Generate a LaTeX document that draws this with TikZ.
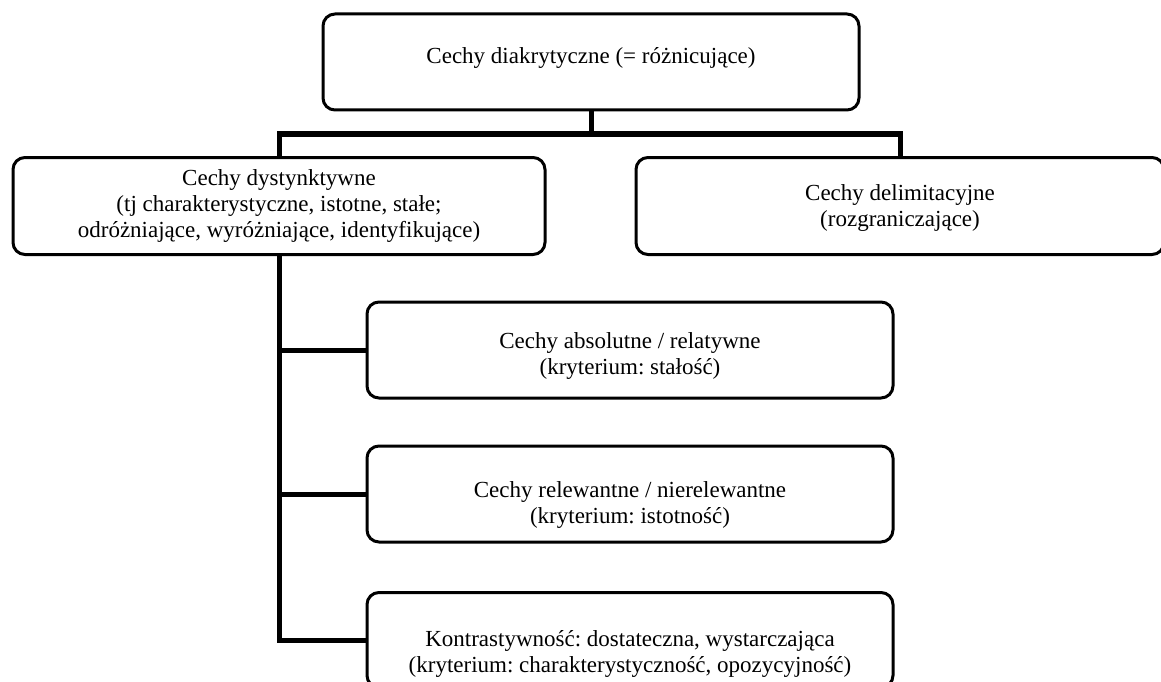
\documentclass[tikz,border=0pt]{standalone}
\usepackage{fontspec}
\setmainfont{Liberation Serif}
\usetikzlibrary{positioning, calc}
\frenchspacing
% extra room above the first line, so the text sits lower in its box
\newcommand{\padtop}[1]{\rule{0pt}{#1}}

\begin{document}
\begin{tikzpicture}[x=1pt, y=-1pt, line join=miter,
    box/.style = {draw, fill=white, rounded corners=12pt, line width=3pt, align=center,
                  font=\fontsize{23}{26}\selectfont},
    link/.style = {line width=5pt}]

    \useasboundingbox (0,0) rectangle (1161,682);

    % main boxes
    \node[box, minimum width=536pt, minimum height=96pt] (diak) at (591,62) {Cechy diakrytyczne (= różnicujące)\rule[-13pt]{0pt}{0pt}};
    \node[box, minimum width=532pt, minimum height=97pt] (dyst) at (279,206) {Cechy dystynktywne\\(tj charakterystyczne, istotne, stałe;\\odróżniające, wyróżniające, identyfikujące)};
    \node[box, minimum width=528pt, minimum height=97pt] (delim) at (900,206) {\padtop{20pt}Cechy delimitacyjne\\(rozgraniczające)};

    % sub boxes
    \node[box, minimum width=526pt, minimum height=96pt] (abs) at (630,350) {\padtop{28pt}Cechy absolutne / relatywne\\(kryterium: stałość)};
    \node[box, minimum width=526pt, minimum height=96pt] (rel) at (630,494) {\padtop{38pt}Cechy relewantne / nierelewantne\\(kryterium: istotność)};
    \node[box, minimum width=526pt, minimum height=95pt] (kontr) at (630,640) {\padtop{44pt}Kontrastywność: dostateczna, wystarczająca\\(kryterium: charakterystyczność, opozycyjność)};

    \coordinate (bus) at (591,134);

    \draw[link] (diak.south) -- (bus);
    \draw[link] (dyst.north) |- (bus) -| (delim.north);
    \draw[link] (dyst.south) |- (kontr.west);
    \draw[link] (dyst.south |- abs.west) -- (abs.west);
    \draw[link] (dyst.south |- rel.west) -- (rel.west);
\end{tikzpicture}
\end{document}
